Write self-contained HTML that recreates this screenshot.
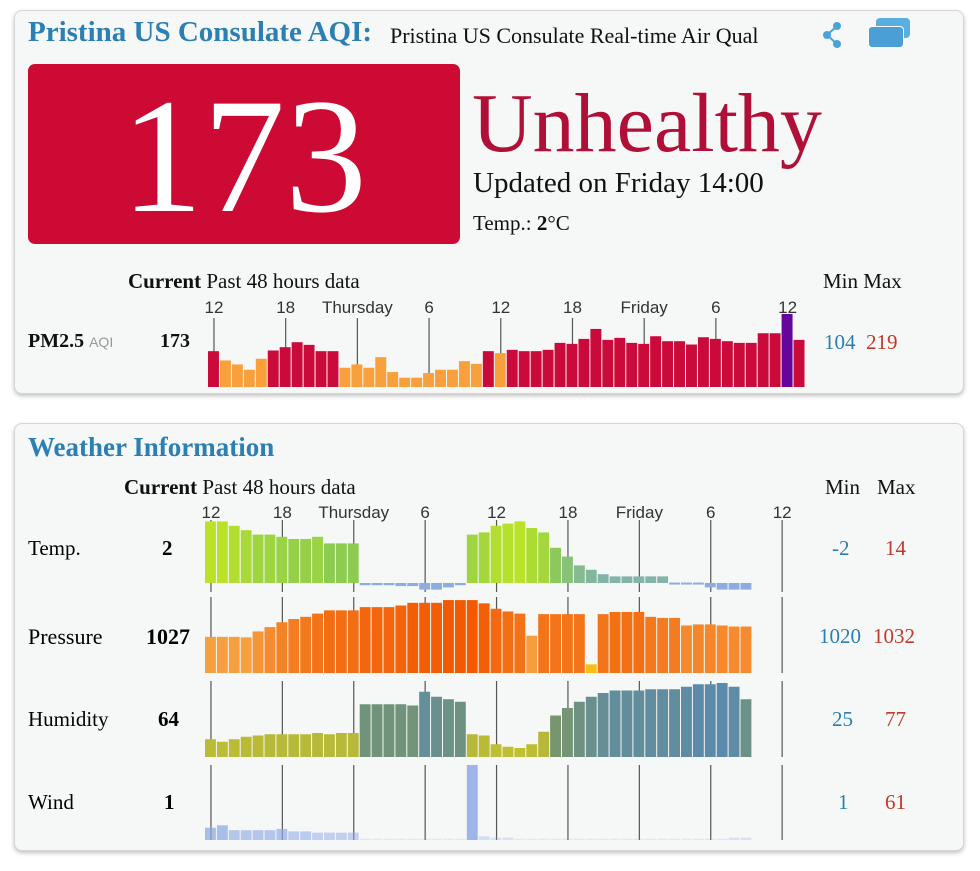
<!DOCTYPE html>
<html><head><meta charset="utf-8">
<style>
html,body{margin:0;padding:0;background:#fff;}
body{width:980px;height:871px;position:relative;overflow:hidden;font-family:"Liberation Serif",serif;}
.card{position:absolute;background:#f6f7f7;border:1px solid #d6d6d6;border-radius:8px;box-shadow:0 2px 4px rgba(0,0,0,0.25);}
.t{position:absolute;white-space:nowrap;}
svg{position:absolute;left:0;top:0;}
</style></head>
<body>
<div class="card" style="left:14px;top:10px;width:948px;height:382px;"></div>
<div class="card" style="left:14px;top:423px;width:948px;height:426px;"></div>

<div class="t" style="left:28px;top:16px;font-size:29px;font-weight:bold;color:#2b7fb3;">Pristina US Consulate AQI:</div>
<div class="t" style="left:390px;top:23px;width:368px;overflow:hidden;font-size:22px;color:#111;">Pristina US Consulate Real-time Air Quality</div>
<div style="position:absolute;left:818px;top:20px;width:28px;height:30px;">
<svg width="28" height="30"><circle cx="19" cy="6" r="4" fill="#4aa3d8"/><circle cx="9" cy="15" r="4" fill="#4aa3d8"/><circle cx="19" cy="24" r="4" fill="#4aa3d8"/><path d="M19 6L9 15L19 24" stroke="#4aa3d8" stroke-width="2" fill="none"/></svg></div>
<div style="position:absolute;left:866px;top:18px;width:46px;height:32px;">
<div style="position:absolute;left:10px;top:0;width:34px;height:20px;background:#5aaee0;border-radius:4px;"></div>
<div style="position:absolute;left:2px;top:8px;width:34px;height:20px;background:#4aa0d6;border-radius:4px;border:1px solid #fff;"></div></div>

<div style="position:absolute;left:28px;top:64px;width:432px;height:180px;background:#cc0a33;border-radius:7px;"></div>
<div class="t" style="left:28px;top:72px;width:432px;text-align:center;font-size:164px;line-height:170px;color:#fff;">173</div>
<div class="t" style="left:472px;top:76px;font-size:84px;line-height:96px;color:#b01038;">Unhealthy</div>
<div class="t" style="left:473px;top:167px;font-size:29px;color:#111;">Updated on Friday 14:00</div>
<div class="t" style="left:473px;top:211px;font-size:21px;color:#111;">Temp.: <b>2</b>°C</div>

<div class="t" style="left:128px;top:269px;font-size:21px;color:#111;"><b>Current</b> Past 48 hours data</div>
<div class="t" style="left:823px;top:269px;font-size:21px;color:#111;">Min Max</div>
<div class="t" style="left:28px;top:330px;font-size:20px;color:#111;"><b>PM2.5</b> <span style="font-family:'Liberation Sans',sans-serif;font-size:14px;color:#999;">AQI</span></div>
<div class="t" style="left:160px;top:330px;font-size:20px;font-weight:bold;color:#111;">173</div>
<div class="t" style="left:824px;top:330px;font-size:21px;color:#2b7fb3;">104</div>
<div class="t" style="left:866px;top:330px;font-size:21px;color:#c0392b;">219</div>

<div class="t" style="left:28px;top:432px;font-size:27px;font-weight:bold;color:#2b7fb3;">Weather Information</div>
<div class="t" style="left:124px;top:475px;font-size:21px;color:#111;"><b>Current</b> Past 48 hours data</div>
<div class="t" style="left:825px;top:475px;font-size:21px;color:#111;">Min</div>
<div class="t" style="left:877px;top:475px;font-size:21px;color:#111;">Max</div>

<div class="t" style="left:28px;top:536px;font-size:21px;">Temp.</div>
<div class="t" style="left:162px;top:536px;font-size:21px;font-weight:bold;">2</div>
<div class="t" style="left:832px;top:536px;font-size:21px;color:#2b7fb3;">-2</div>
<div class="t" style="left:885px;top:536px;font-size:21px;color:#c0392b;">14</div>

<div class="t" style="left:28px;top:624px;font-size:22px;">Pressure</div>
<div class="t" style="left:146px;top:624px;font-size:22px;font-weight:bold;">1027</div>
<div class="t" style="left:819px;top:624px;font-size:21px;color:#2b7fb3;">1020</div>
<div class="t" style="left:873px;top:624px;font-size:21px;color:#c0392b;">1032</div>

<div class="t" style="left:28px;top:707px;font-size:21px;">Humidity</div>
<div class="t" style="left:158px;top:707px;font-size:21px;font-weight:bold;">64</div>
<div class="t" style="left:832px;top:707px;font-size:21px;color:#2b7fb3;">25</div>
<div class="t" style="left:885px;top:707px;font-size:21px;color:#c0392b;">77</div>

<div class="t" style="left:28px;top:790px;font-size:21px;">Wind</div>
<div class="t" style="left:164px;top:790px;font-size:21px;font-weight:bold;">1</div>
<div class="t" style="left:838px;top:790px;font-size:21px;color:#2b7fb3;">1</div>
<div class="t" style="left:885px;top:790px;font-size:21px;color:#c0392b;">61</div>

<svg id="chart" width="980" height="871"></svg>

<script>
const tickLabels = ["12","18","Thursday","6","12","18","Friday","6","12"];
const pmValues = [108,80,68,52,85,110,120,135,127,108,108,58,68,58,90,45,28,28,42,52,52,78,70,108,102,112,108,108,112,133,130,145,175,142,148,133,130,153,138,138,128,150,145,138,133,133,162,162,220,142];
const tempValues = [14,14,13,12,11,11,10.5,10,10,10.5,9,9,9,-0.5,-0.5,-0.5,-0.7,-0.7,-1.5,-1.5,-1,-0.5,11,11.5,13,13.5,14,12.5,11.5,8,6,4,3,2,1.5,1.5,1.5,1.5,1.5,0.1,0.1,0.1,-1,-1.5,-1.5,-1.5];
const pressureValues = [1025.1,1025.1,1025.1,1025,1026.1,1026.9,1027.8,1028.4,1028.8,1029.4,1030,1030,1030,1030.6,1030.6,1030.6,1030.9,1031.4,1031.4,1031.4,1031.9,1031.9,1031.9,1031.3,1030.3,1029.8,1029.4,1025.3,1029.3,1029.3,1029.3,1029.3,1020,1029.3,1029.7,1029.7,1029.7,1028.8,1028.6,1028.6,1027.2,1027.4,1027.4,1027.2,1027,1027];
const humidityValues = [32,30,32,34,35,36,36,36,36,37,36,37,37,60,60,60,60,59,70,66,64,62,36,35,28,26,25,28,38,51,57,62,66,69,71,71,71,72,72,72,74,76,76,77,74,64];
const windValues = [10,12,8,8,8,8,9,7,7,6,6,6,6,1,1,1,1,1,1,1,1,1,61,3,2,2,1,1,1,1,1,1,1,1,1,1,1,1,1,1,1,1,1,1,2,2];

const svg = document.getElementById('chart');
const NS = 'http://www.w3.org/2000/svg';
function mk(tag, attrs){const e=document.createElementNS(NS,tag);for(const k in attrs)e.setAttribute(k,attrs[k]);svg.appendChild(e);return e;}
function lerp(a,b,t){return a.map((v,i)=>Math.round(v+(b[i]-v)*t));}
function rgb(c){return 'rgb('+c.join(',')+')';}
function clamp(t){return Math.max(0,Math.min(1,t));}

// PM2.5 chart axes
const pmX0=208, pmBW=11.95, pmBase=387;
const pmX = i => pmX0 + i*pmBW;
const pmY = v => pmBase - v*73/220;
tickLabels.forEach((lab,k)=>{
  const cx = pmX(k*6)+pmBW/2;
  const ln = mk('line',{x1:cx,x2:cx,y1:318,y2:pmBase,stroke:'#555','stroke-width':1.2});
  
  
  const tx = mk('text',{x:cx,y:313,'text-anchor':'middle','font-family':'Liberation Sans, sans-serif','font-size':17,fill:'#333'});
  tx.textContent = lab;
  
  
});
pmValues.forEach((v,i)=>{
  const col = v>=200?'#66059c':(v>=105?'#c90a3a':'#f7a03c');
  const r = mk('rect',{x:pmX(i),y:pmY(v),width:pmBW-1,height:pmBase-pmY(v),fill:col});
  
  
});

// Weather chart axes
const wX0=205, wBW=11.9;
const wX = i => wX0 + i*wBW;
const rows = [[520,592],[597,673],[681,757],[765,840]];
tickLabels.forEach((lab,k)=>{
  const cx = wX(k*6)+wBW/2;
  rows.forEach(r=>{
    const ln = mk('line',{x1:cx,x2:cx,y1:r[0],y2:r[1],stroke:'#555','stroke-width':1.2});
    
    
  });
  const tx = mk('text',{x:cx,y:518,'text-anchor':'middle','font-family':'Liberation Sans, sans-serif','font-size':17,fill:'#333'});
  tx.textContent = lab;
  
  
});

// Temperature
const tZero=583, tScale=4.4;
const tY = v => tZero - v*tScale;
tempValues.forEach((v,i)=>{
  let col;
  if(v<0.5) col=[140,172,226];
  else if(v>=9) col=lerp([140,204,80],[186,226,40],clamp((v-9)/5));
  else col=lerp([130,180,170],[140,204,80],clamp((v-2)/7));
  const y0=Math.min(tY(v),tZero), y1=Math.max(tY(v),tZero);
  const r = mk('rect',{x:wX(i),y:y0,width:wBW-1,height:Math.max(y1-y0,2),fill:rgb(col)});
  
  
});

// Pressure
const pBase=673;
const pY = v => pBase - (v-1018.4)*5.4;
pressureValues.forEach((v,i)=>{
  const col = v<1021?[248,190,20]:lerp([246,160,64],[242,88,0],clamp((v-1025)/7));
  const r = mk('rect',{x:wX(i),y:pY(v),width:wBW-1,height:pBase-pY(v),fill:rgb(col)});
  
  
});

// Humidity
const hBase=757;
const hY = v => hBase - (v-17.8)*1.25;
humidityValues.forEach((v,i)=>{
  let col;
  if(v<45) col=lerp([192,192,48],[176,180,64],clamp((v-25)/20));
  else col=lerp([120,150,110],[90,138,172],clamp((v-55)/22));
  const r = mk('rect',{x:wX(i),y:hY(v),width:wBW-1,height:hBase-hY(v),fill:rgb(col)});
  
  
});

// Wind
const wBase=840;
const windY = v => wBase - v*75/61;
windValues.forEach((v,i)=>{
  const op = v>=20?0.85:Math.min(0.75,0.15+v*0.06);
  const r = mk('rect',{x:wX(i),y:windY(v),width:wBW-1,height:wBase-windY(v),fill:'#8fa9e6','fill-opacity':op});
  
  
});
</script>
</body></html>
